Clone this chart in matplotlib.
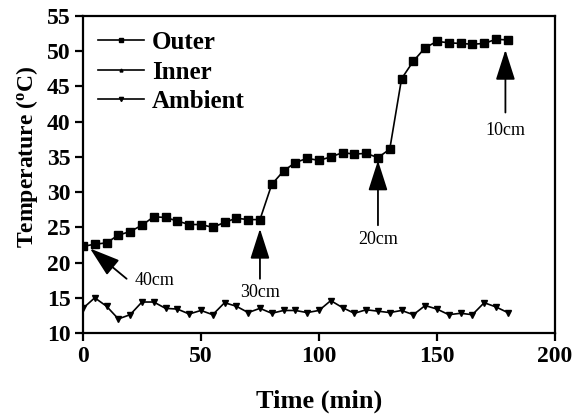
import matplotlib
matplotlib.use("Agg")
import matplotlib.pyplot as plt
import numpy as np

plt.rcParams['font.family'] = ['Liberation Serif', 'DejaVu Serif']
plt.rcParams['font.weight'] = 'bold'

# time axis (min), one reading every 5 minutes
time_min = np.arange(0, 185, 5)

outer = [22.3, 22.6, 22.8, 23.9, 24.4, 25.3, 26.5, 26.4, 25.9, 25.4,
         25.4, 25.0, 25.7, 26.3, 26.1, 26.1, 31.1, 33.0, 34.2, 34.8,
         34.5, 35.0, 35.6, 35.4, 35.5, 34.9, 36.1, 46.1, 48.6, 50.5,
         51.4, 51.2, 51.1, 51.0, 51.1, 51.7, 51.6]
inner = []  # listed in legend, no data shown
ambient = [13.5, 15.0, 13.8, 12.0, 12.6, 14.4, 14.4, 13.5, 13.4, 12.7,
           13.2, 12.6, 14.3, 13.8, 12.9, 13.5, 12.8, 13.2, 13.2, 12.9,
           13.2, 14.6, 13.6, 12.8, 13.3, 13.1, 12.9, 13.2, 12.6, 13.9,
           13.4, 12.6, 12.8, 12.6, 14.3, 13.7, 12.9]

# annotations: label, arrow tip (x, y), arrow tail (x, y), text position
notes = [
    ("40cm", (3.0, 22.0), (18.5, 17.7), (30.5, 17.5)),
    ("30cm", (75.0, 24.8), (75.0, 17.7), (75.0, 15.8)),
    ("20cm", (125.0, 34.5), (125.0, 25.3), (125.0, 23.3)),
    ("10cm", (179.0, 50.2), (179.0, 41.3), (179.0, 38.7)),
]

fig = plt.figure(figsize=(5.76, 4.16), dpi=100)
ax = fig.add_axes([0.144, 0.1995, 0.8195, 0.762])

ax.plot(time_min, outer, color='black', lw=1.2, marker='s', ms=5.5, label='Outer')
ax.plot(time_min[:len(inner)], inner, color='black', lw=1.2, marker='^', ms=3.5, label='Inner')
ax.plot(time_min, ambient, color='black', lw=1.2, marker='v', ms=5, label='Ambient')

for lbl, tip, tail, txt in notes:
    ax.annotate('', xy=tip, xytext=tail,
                arrowprops=dict(arrowstyle='-|>,head_length=1.25,head_width=0.4',
                                color='black', lw=1.3, mutation_scale=15,
                                shrinkA=0, shrinkB=0))
    ax.text(txt[0], txt[1], lbl, ha='center', va='center', fontsize=13,
            fontweight='normal')

ax.set_xlim(0, 200)
ax.set_ylim(10, 55)
ax.set_xticks(range(0, 201, 50))
ax.set_yticks(range(10, 56, 5))
for s in ax.spines.values():
    s.set_linewidth(1.6)
ax.tick_params(direction='out', length=6, width=1.6, labelsize=17, pad=3)

ax.set_xlabel('Time (min)', fontsize=19, fontweight='bold')
ax.xaxis.set_label_coords(0.5, -0.178)
ax.set_ylabel(r'Temperature ($\mathregular{^o}$C)', fontsize=17, fontweight='bold')
ax.yaxis.set_label_coords(-0.09, 0.555)

leg = ax.legend(loc='upper left', frameon=False, fontsize=18, handlelength=1.85,
                labelspacing=0.26, borderaxespad=0.2, handletextpad=0.3,
                markerscale=0.6)

fig.savefig('out.png', dpi=100)
